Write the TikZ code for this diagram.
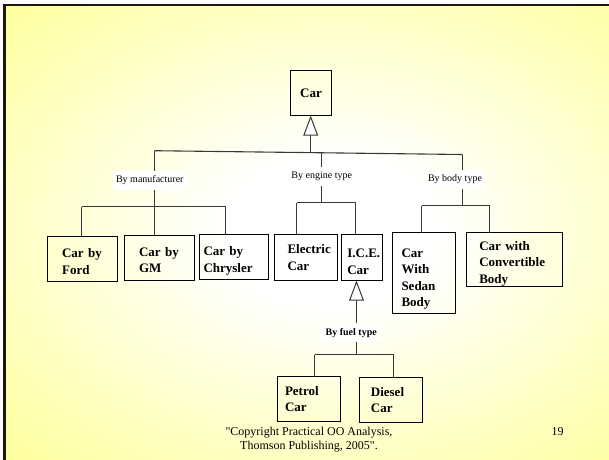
\documentclass[tikz,border=0pt]{standalone}
\usepackage{fontspec}
\setmainfont{Liberation Serif}
\newfontfamily\plainserif{Liberation Serif}
\usetikzlibrary{arrows.meta}
\definecolor{bgyellow}{RGB}{255,255,140}
\definecolor{frame}{RGB}{25,25,15}
\pgfdeclareradialshading{slidebg}{\pgfpoint{0bp}{0bp}}{color(0bp)=(white); color(8bp)=(white); color(40bp)=(bgyellow); color(50bp)=(bgyellow)}
\begin{document}
\begin{tikzpicture}[x=1pt,y=-1pt,
  conn/.style={draw=black!78, line width=1.1pt},
  genz/.style={conn, -{Triangle[length=20pt,width=14.7pt,fill=white,line width=1pt]}},
  cls/.style={draw=black, line width=1.2pt, anchor=north west, align=left, outer sep=0pt,
    font=\fontsize{13}{16.5}\selectfont\bfseries, inner ysep=0pt},
  lbl/.style={fill=white, inner xsep=3.5pt, minimum height=18.5pt, font=\fontsize{10}{12}\selectfont},
  foot/.style={font=\fontsize{12}{14}\selectfont\plainserif, align=center}
]
\useasboundingbox (0,0) rectangle (609,459);
\fill[white] (0,0) rectangle (609,459);
\begin{scope}
  \clip (4,5) rectangle (609,459);
  \shade[shading=slidebg] (4,5) rectangle (656,459);
\end{scope}
\draw[draw=frame, line width=2.2pt] (4.4,460) -- (4.4,5.1) -- (610,5.1);

% classes
\node[draw=black, line width=1.2pt, outer sep=0pt, minimum width=41pt, minimum height=45pt,
      font=\fontsize{13}{16.5}\selectfont\bfseries] (car) at (311,93) {Car};
\node[cls, text width=40.8pt, inner xsep=14.6pt, minimum height=45pt, text height=14pt] (ford) at (47.5,236.5) {\mbox{Car by}\\Ford};
\node[cls, text width=40.8pt, inner xsep=14.6pt, minimum height=45pt, text height=13pt] (gm) at (124.5,235.5) {\mbox{Car by}\\GM};
\node[cls, text width=61pt, inner xsep=4pt, minimum height=45pt, text height=17pt] (chrysler) at (199.5,234.5) {Car by\\Chrysler};
\node[cls, text width=37pt, inner xsep=13pt, minimum height=46pt] (electric) at (274.5,234.5) {Electric\\Car};
\node[cls, text width=29.4pt, inner xsep=5.8pt, minimum height=46pt, text height=17pt] (ice) at (341.5,234.5) {I.C.E.\\Car};
\node[cls, text width=45pt, inner xsep=9pt, minimum height=81pt, text height=21pt] (sedan) at (392.5,232.5) {Car\\With\\Sedan\\Body};
\node[cls, text width=70.4pt, inner xsep=12.8pt, minimum height=54pt, text height=17pt] (conv) at (466.5,232.5) {Car with\\Convertible\\Body};
\node[cls, text width=48pt, inner xsep=7.5pt, minimum height=45pt] (petrol) at (277.5,376.5) {Petrol\\Car};
\node[cls, text width=40.2pt, inner xsep=11.4pt, minimum height=45pt] (diesel) at (359.5,377.5) {Diesel\\Car};

% top generalization
\coordinate (bL) at (154.5,150.7);
\coordinate (bR) at (462.5,154.5);
\coordinate (j0) at (310.7,151.6);
\coordinate (jE) at (321.5,152.4);
\draw[conn] (bL) -- (bR);
\draw[genz] (j0) -- (j0 |- car.south);

% by manufacturer
\coordinate (sL) at (154.5,206.5);
\coordinate (sLa) at (81.5,206.5);
\coordinate (sLc) at (225.5,206.5);
\draw[conn] (bL) -- (sL);
\draw[conn] (sLa) -- (sLc);
\draw[conn] (sLa) -- (sLa |- ford.north);
\draw[conn] (sL) -- (sL |- gm.north);
\draw[conn] (sLc) -- (sLc |- chrysler.north);
\node[lbl] (lman) at (149.8,180.3) {By manufacturer};

% by engine type
\coordinate (sE) at (321.5,202.5);
\coordinate (sEa) at (296.5,202.5);
\coordinate (sEb) at (355.5,202.5);
\draw[conn] (jE) -- (sE);
\draw[conn] (sEa) -- (sEb);
\draw[conn] (sEa) -- (sEa |- electric.north);
\draw[conn] (sEb) -- (sEb |- ice.north);
\node[lbl] (leng) at (321.7,176.5) {By engine type};

% by body type
\coordinate (sB) at (462.5,205.5);
\coordinate (sBa) at (421.5,205.5);
\coordinate (sBb) at (489.5,205.5);
\draw[conn] (bR) -- (sB);
\draw[conn] (sBa) -- (sBb);
\draw[conn] (sBa) -- (sBa |- sedan.north);
\draw[conn] (sBb) -- (sBb |- conv.north);
\node[lbl] (lbody) at (455,179.3) {By body type};

% by fuel type
\coordinate (fj) at (356.5,354.5);
\coordinate (fa) at (314.5,354.5);
\coordinate (fb) at (393.5,354.5);
\draw[genz] (fj) -- (fj |- ice.south);
\draw[conn] (fa) -- (fb);
\draw[conn] (fa) -- (fa |- petrol.north);
\draw[conn] (fb) -- (fb |- diesel.north);
\node[lbl, font=\fontsize{10}{12}\selectfont\bfseries, inner xsep=4pt] (lfuel) at (351.2,332.7) {By fuel type};

% footer
\node[foot] (copy) at (309,439.7) {"Copyright Practical OO Analysis,\\Thomson Publishing, 2005".};
\node[foot] (page) at (557.5,432) {19};
\end{tikzpicture}
\end{document}
